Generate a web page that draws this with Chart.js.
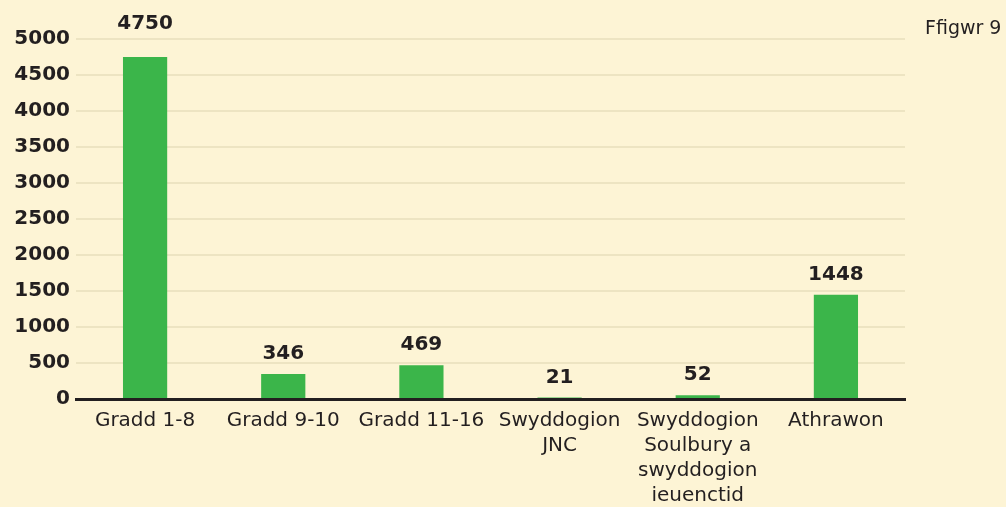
<!DOCTYPE html>
<html><head><meta charset="utf-8">
<script src="https://cdn.jsdelivr.net/npm/chart.js@4.4.1/dist/chart.umd.min.js"></script>
<style>
html,body{margin:0;padding:0;background:#FDF4D5;overflow:hidden;}
#wrap{position:relative;width:1006px;height:507px;}
#fig{position:absolute;left:925px;top:16px;font-family:"DejaVu Sans";font-size:19px;color:#231F20;white-space:nowrap;}
</style></head>
<body><div id="wrap"><canvas id="c" width="1006" height="507"></canvas><div id="fig">Ffigwr 9</div></div>
<script>
const categories = ['Gradd 1-8', 'Gradd 9-10', 'Gradd 11-16', ['Swyddogion','JNC'], ['Swyddogion','Soulbury a','swyddogion','ieuenctid'], 'Athrawon'];
const values = [4750, 346, 469, 21, 52, 1448];
const yTicks = [0,500,1000,1500,2000,2500,3000,3500,4000,4500,5000];

const TEXT = '#231F20';
const labelPlugin = {
  id: 'valLabels',
  afterDatasetsDraw(chart) {
    const ctx = chart.ctx;
    const meta = chart.getDatasetMeta(0);
    const top = chart.chartArea.top;
    ctx.save();
    ctx.font = 'bold 20px "DejaVu Sans"';
    ctx.fillStyle = TEXT;
    ctx.textAlign = 'center';
    ctx.textBaseline = 'middle';
    meta.data.forEach((el, i) => {
      let y = el.y - 20;
      if (y < top + 10) y = top - 15;
      ctx.fillText(String(values[i]), el.x, y);
    });
    ctx.restore();
  }
};

new Chart(document.getElementById('c'), {
  type: 'bar',
  data: { labels: categories, datasets: [{ data: values, backgroundColor: '#3BB54A', barPercentage: 0.32, categoryPercentage: 1 }] },
  options: {
    responsive: false, animation: false,
    layout: { padding: { top: 39, right: 101, left: 0, bottom: 0 } },
    plugins: { legend: { display: false }, tooltip: { enabled: false } },
    scales: {
      x: {
        grid: { display: false, drawTicks: false },
        border: { display: true, color: TEXT, width: 3 },
        ticks: { color: TEXT, font: { family: 'DejaVu Sans', size: 20, lineHeight: 1.25 }, padding: 9, maxRotation: 0, autoSkip: false },
        afterFit(s) { s.height = 108; }
      },
      y: {
        min: 0, max: 5000,
        afterBuildTicks(s) { s.ticks = yTicks.map(v => ({ value: v })); },
        grid: { color: '#EDE4C2', lineWidth: 2, drawTicks: false },
        border: { display: false },
        ticks: { color: TEXT, font: { family: 'DejaVu Sans', size: 20, weight: 'bold' }, padding: 6, callback: v => String(v) },
        afterFit(s) { s.width = 76; }
      }
    }
  },
  plugins: [labelPlugin]
});
</script></body></html>
